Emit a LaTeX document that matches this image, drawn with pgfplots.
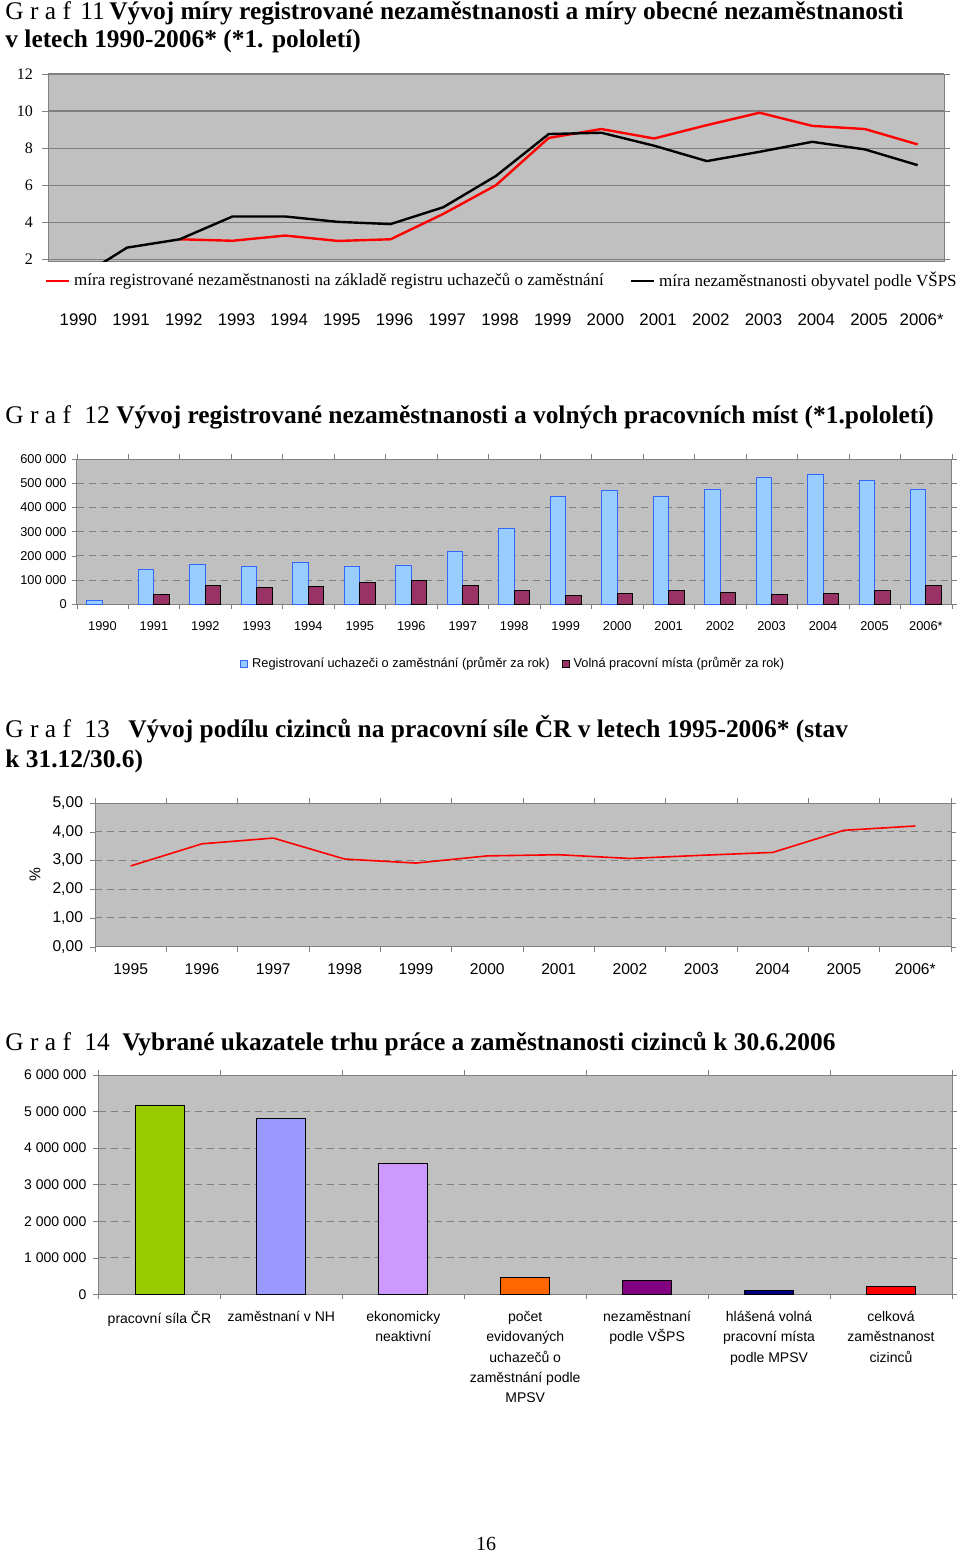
\documentclass[border=0pt]{standalone}
\usepackage{fontspec}
\setmainfont{Liberation Serif}
\newfontfamily\arial{Liberation Sans}
\usepackage{pgfplots}
\pgfplotsset{compat=1.18}
\definecolor{bggray}{HTML}{C0C0C0}
\definecolor{gridgray}{HTML}{808080}
\definecolor{barblue}{HTML}{99CCFF}
\definecolor{baredge}{HTML}{3366FF}
\definecolor{barpurple}{HTML}{993366}
\definecolor{cgreen}{HTML}{99CC00}
\definecolor{cperi}{HTML}{9999FF}
\definecolor{clav}{HTML}{CC99FF}
\definecolor{corange}{HTML}{FF6600}
\definecolor{cviolet}{HTML}{800080}
\definecolor{cnavy}{HTML}{000080}
\definecolor{cred}{HTML}{FF0000}
\newcommand{\fs}[2]{\fontsize{#1}{#2}\selectfont}
\pgfplotsset{
  common/.style={
    scale only axis, anchor=south west,
    axis background/.style={fill=bggray},
    axis line style={draw=gridgray},
    tick align=outside,
    scaled ticks=false,
    tick style={draw=gridgray},
    major tick length=2.5pt,
  },
  dgrid/.style={ymajorgrids, grid style={draw=gridgray, dash pattern=on 3.5pt off 2.5pt, line width=0.5pt}},
}
\begin{document}
\begin{tikzpicture}
\path[use as bounding box, fill=white] (0pt,0pt) rectangle (480pt,-776pt);
% ---------- titles
\tikzset{tt/.style={anchor=base west, inner sep=0pt, font=\fs{12.7}{15}}, tb/.style={tt, font=\bfseries\fs{12.7}{15}}}
\node[tt] at (2.5pt,-10pt) {G r a f};
\node[tt] at (40pt,-10pt) {11};
\node[tb] at (54.5pt,-10pt) {Vývoj míry registrované nezaměstnanosti a míry obecné nezaměstnanosti};
\node[tb] at (2.5pt,-24pt) {v letech 1990-2006* (*1. pololetí)};
\node[tt] at (2.5pt,-211.5pt) {G r a f};
\node[tt] at (42pt,-211.5pt) {12};
\node[tb] at (58pt,-211.5pt) {Vývoj registrované nezaměstnanosti a volných pracovních míst (*1.pololetí)};
\node[tt] at (2.5pt,-368.5pt) {G r a f};
\node[tt] at (42pt,-368.5pt) {13};
\node[tb] at (64pt,-368.5pt) {Vývoj podílu cizinců na pracovní síle ČR v letech 1995-2006* (stav};
\node[tb] at (2.5pt,-383.5pt) {k 31.12/30.6)};
\node[tt] at (2.5pt,-525pt) {G r a f};
\node[tt] at (42pt,-525pt) {14};
\node[tb] at (61pt,-525pt) {Vybrané ukazatele trhu práce a zaměstnanosti cizinců k 30.6.2006};
\node[anchor=base, inner sep=0pt, font=\fs{10}{12}] at (243pt,-775pt) {16};

% ---------- Graf 11
\begin{axis}[common,
  at={(24pt,-130.85pt)}, width=448pt, height=93.85pt,
  xmin=-0.5, xmax=16.5, ymin=1.87, ymax=12,
  xtick={0,...,16},
  xticklabels={1990,1991,1992,1993,1994,1995,1996,1997,1998,1999,2000,2001,2002,2003,2004,2005,2006*},
  ytick={2,4,6,8,10,12}, yticklabels={2,4,6,8,10,12},
  ymajorgrids, grid style={draw=gridgray, line width=0.6pt},
  x tick style={draw=none},
  major tick length=3pt,
  yticklabel style={font=\fs{8}{9}, xshift=-1pt},
  xticklabel style={font=\arial\fs{8.4}{10}, yshift=-19.3pt, xshift=2pt},
  legend columns=2,
  legend style={at={(-0.004,-0.103)}, anchor=west, draw=none, fill=none, font=\fs{8.5}{9}, inner sep=0pt,
    /tikz/every even column/.append style={column sep=11pt}},
  legend image code/.code={\draw[#1] (0pt,0pt) -- (11.5pt,0pt);},
]
\addplot[cred, line width=1.2pt] coordinates {(2,3.08)(3,3.0)(4,3.28)(5,2.99)(6,3.08)(7,4.45)(8,6.0)(9,8.55)(10,9.03)(11,8.52)(12,9.24)(13,9.91)(14,9.2)(15,9.03)(16,8.2)};
\addlegendentry{míra registrované nezaměstnanosti na základě registru uchazečů o zaměstnání}
\addplot[black, line width=1.2pt] coordinates {(0,0.85)(1,2.63)(2,3.08)(3,4.31)(4,4.31)(5,4.02)(6,3.9)(7,4.81)(8,6.5)(9,8.76)(10,8.83)(11,8.13)(12,7.3)(13,7.8)(14,8.34)(15,7.93)(16,7.08)};
\addlegendentry{míra nezaměstnanosti obyvatel podle VŠPS}
\end{axis}

% ---------- Graf 12
\begin{axis}[common, dgrid,
  at={(38.35pt,-302.15pt)}, width=437.5pt, height=72.65pt,
  xmin=-0.5, xmax=16.5, ymin=0, ymax=600000,
  ybar=0pt, bar width=7.75pt,
  xtick={-0.5,0.5,...,16.5},
  xticklabels={1990,1991,1992,1993,1994,1995,1996,1997,1998,1999,2000,2001,2002,2003,2004,2005,2006*},
  ytick={0,100000,200000,300000,400000,500000,600000},
  yticklabels={0,100 000,200 000,300 000,400 000,500 000,600 000},
  yticklabel style={font=\arial\fs{6.4}{8}, xshift=1pt},
  xticklabel style={font=\arial\fs{6.4}{8}, xshift=12.87pt, yshift=-2.5pt},
  legend columns=2,
  legend style={at={(0.5,-0.41)}, anchor=center, draw=none, fill=none, font=\arial\fs{6.4}{8},
    /tikz/every even column/.append style={column sep=4pt}},
  legend image code/.code={\draw[#1] (0pt,-1.75pt) rectangle (3.5pt,1.75pt);},
]
\addplot[fill=barblue, draw=baredge, line width=0.5pt] coordinates {(0,17000)(1,142000)(2,165000)(3,155000)(4,173500)(5,155000)(6,160000)(7,220000)(8,311000)(9,445000)(10,472000)(11,445000)(12,476000)(13,523000)(14,537000)(15,512000)(16,476000)};
\addlegendentry{Registrovaní uchazeči o zaměstnání (průměr za rok)}
\addplot[fill=barpurple, draw=black, line width=0.5pt] coordinates {(1,41000)(2,77000)(3,69000)(4,73000)(5,91000)(6,100000)(7,77000)(8,55000)(9,35500)(10,45000)(11,59000)(12,49500)(13,41000)(14,45000)(15,55000)(16,77000)};
\addlegendentry{Volná pracovní místa (průměr za rok)}
\end{axis}

% ---------- Graf 13
\begin{axis}[common, dgrid,
  at={(47.5pt,-473.35pt)}, width=428pt, height=71.85pt,
  xmin=-0.5, xmax=11.5, ymin=0, ymax=5,
  xtick={-0.5,0.5,...,11.5},
  xticklabels={1995,1996,1997,1998,1999,2000,2001,2002,2003,2004,2005,2006*},
  ytick={0,1,2,3,4,5},
  yticklabels={{0,00},{1,00},{2,00},{3,00},{4,00},{5,00}},
  yticklabel style={font=\arial\fs{7.8}{9}},
  xticklabel style={font=\arial\fs{7.8}{9}, xshift=17.83pt, yshift=-2.5pt},
  ylabel={\%}, ylabel style={font=\arial\fs{7.8}{9}, at={(axis description cs:-0.070,0.5)}, anchor=center},
]
\addplot[cred, line width=0.8pt] coordinates {(0,2.81)(1,3.58)(2,3.78)(3,3.05)(4,2.91)(5,3.16)(6,3.2)(7,3.07)(8,3.18)(9,3.28)(10,4.05)(11,4.2)};
\end{axis}

% ---------- Graf 14
\begin{axis}[common, dgrid,
  at={(49.25pt,-647.15pt)}, width=426.75pt, height=109.65pt,
  xmin=-0.5, xmax=6.5, ymin=0, ymax=6000000,
  ybar, bar width=24.5pt,
  xtick={-0.5,0.5,...,6.5},
  xticklabels={{pracovní síla ČR},{zaměstnaní v NH},{ekonomicky\\neaktivní},{počet\\evidovaných\\uchazečů o\\zaměstnání podle\\MPSV},{nezaměstnaní\\podle VŠPS},{hlášená volná\\pracovní místa\\podle MPSV},{celková\\zaměstnanost\\cizinců}},
  ytick={0,1000000,2000000,3000000,4000000,5000000,6000000},
  yticklabels={0,1 000 000,2 000 000,3 000 000,4 000 000,5 000 000,6 000 000},
  yticklabel style={font=\arial\fs{7}{8}},
  xticklabel style={font=\arial\fs{7}{10.15}, align=center, xshift=30.48pt, yshift=-2.5pt},
]
\addplot[fill=cgreen, draw=black, bar shift=0pt] coordinates {(0,5180000)};
\addplot[fill=cperi, draw=black, bar shift=0pt] coordinates {(1,4810000)};
\addplot[fill=clav, draw=black, bar shift=0pt] coordinates {(2,3570000)};
\addplot[fill=corange, draw=black, bar shift=0pt] coordinates {(3,456000)};
\addplot[fill=cviolet, draw=black, bar shift=0pt] coordinates {(4,392000)};
\addplot[fill=cnavy, draw=black, bar shift=0pt] coordinates {(5,109000)};
\addplot[fill=cred, draw=black, bar shift=0pt] coordinates {(6,228000)};
\end{axis}
\end{tikzpicture}
\end{document}
